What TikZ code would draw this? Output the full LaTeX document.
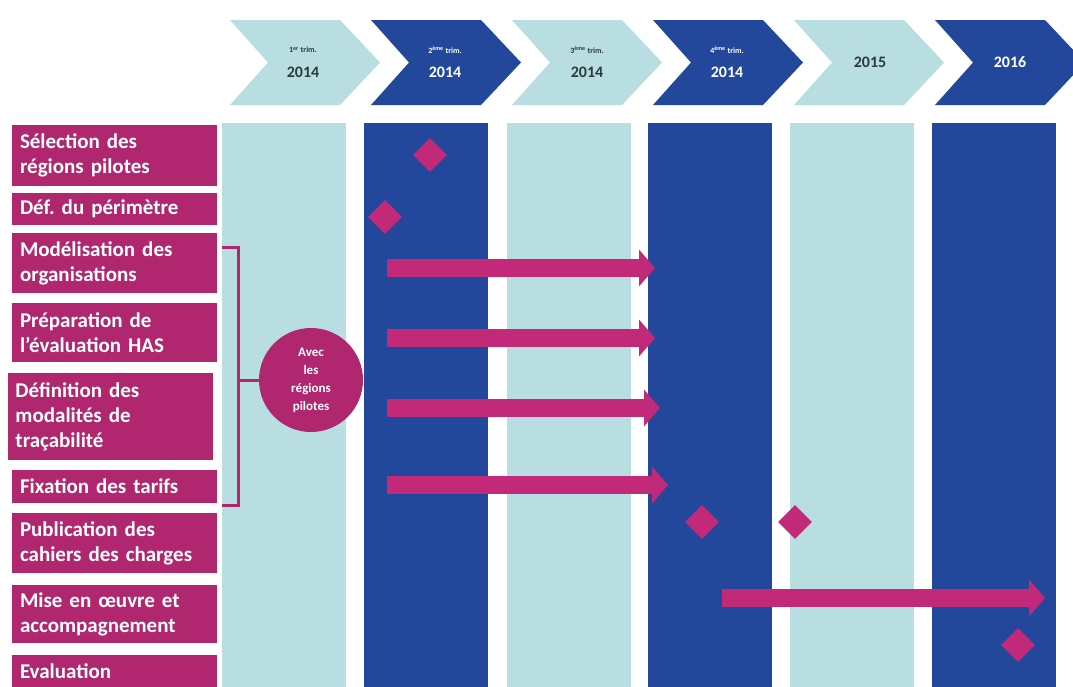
\documentclass[tikz,border=0pt]{standalone}
\usepackage{fontspec}
\setmainfont{Carlito}
\usetikzlibrary{shapes.geometric,arrows.meta}
\definecolor{lightc}{HTML}{B8DEE1}
\definecolor{darkb}{HTML}{23489B}
\definecolor{mag}{HTML}{B0276F}
\definecolor{magb}{HTML}{C22A79}
\definecolor{hdtext}{HTML}{2B3B3B}
\tikzset{
  lbl/.style={fill=mag, text=white, font=\bfseries\fontsize{21}{25}\selectfont,
    align=left, text width=189pt, inner xsep=8pt, inner ysep=0pt, minimum width=205pt},
  colL/.style={fill=lightc, draw=none},
  colD/.style={fill=darkb, draw=none},
  chevL/.style={fill=lightc, draw=none},
  chevD/.style={fill=darkb, draw=none},
  hsmall/.style={font=\bfseries\fontsize{8}{9}\selectfont},
  hbig/.style={font=\bfseries\fontsize{16}{18}\selectfont},
  milestone/.style={diamond, fill=magb, minimum size=34pt, inner sep=0pt},
  bar/.style={magb, line width=18pt, -{Triangle[length=16pt,width=36pt]}},
  brk/.style={mag, line width=3pt},
  circ/.style={circle, fill=mag, minimum size=104pt, inner sep=0pt, text=white,
    align=center, font=\bfseries\fontsize{13}{18}\selectfont}
}
\begin{document}
\frenchspacing
\begin{tikzpicture}[x=1pt,y=-1pt]
\useasboundingbox (0,0) rectangle (1073,686);
\fill[white] (0,0) rectangle (1073,686);
\begin{scope}
\clip (0,0) rectangle (1073,686);
% header chevrons
\foreach \L/\st in {230/chevL,371/chevD,512/chevL,653/chevD,794/chevL,935/chevD}{
  \fill[\st] (\L,20) -- ++(110,0) -- ++(40,42.5) -- ++(-40,42.5) -- ++(-110,0) -- ++(38,-42.5) -- cycle;
}
% columns
\foreach \L/\st in {222/colL,364/colD,507/colL,648/colD,790/colL,932/colD}{
  \fill[\st] (\L,123) rectangle ++(124,570);
}
% labels
\node[lbl, minimum height=61pt] (l1) at (114.5,155.5) {Sélection des\\régions pilotes};
\node[lbl, minimum height=32pt] (l2) at (114.5,209) {Déf. du périmètre};
\node[lbl, minimum height=60pt] (l3) at (114.5,263) {Modélisation des\\organisations};
\node[lbl, minimum height=59pt] (l4) at (114.5,332.5) {Préparation de\\l’évaluation HAS};
\node[lbl, minimum height=87pt] (l5) at (110,416.5) {Définition des\\modalités de\\traçabilité};
\node[lbl, minimum height=33pt] (l6) at (114.5,486.5) {Fixation des tarifs};
\node[lbl, minimum height=60pt] (l7) at (114.5,543) {Publication des\\cahiers des charges};
\node[lbl, minimum height=58pt] (l8) at (114.5,614) {Mise en œuvre et\\accompagnement};
\node[lbl, minimum height=32pt, anchor=north] (l9) at (114.5,655) {Evaluation};
\fill[mag] (12,680) rectangle (217,690);
\end{scope}
% header texts
\node[hsmall, text=hdtext] (t1s) at (303,50) {1\textsuperscript{er} trim.};
\node[hbig, text=hdtext] (t1) at (303,72) {2014};
\node[hsmall, text=white] (t2s) at (445,50) {2\textsuperscript{ème} trim.};
\node[hbig, text=white] (t2) at (445,72) {2014};
\node[hsmall, text=hdtext] (t3s) at (587,50) {3\textsuperscript{ème} trim.};
\node[hbig, text=hdtext] (t3) at (587,72) {2014};
\node[hsmall, text=white] (t4s) at (727,50) {4\textsuperscript{ème} trim.};
\node[hbig, text=white] (t4) at (727,72) {2014};
\node[hbig, text=hdtext] (t5) at (870,62) {2015};
\node[hbig, text=white] (t6) at (1010,62) {2016};
% bracket and circle
\node[circ] (c) at (311,380) {Avec\\les\\régions\\pilotes};
\coordinate (bt) at (222,247);
\coordinate (bb) at (222,505);
\draw[brk] (bt) -- ++(16,0) |- (bb);
\draw[brk] (c.west) -- ++(-21,0);
% milestones
\node[milestone] (m1) at (430,155) {};
\node[milestone] (m2) at (385,217) {};
\node[milestone] (m3) at (702,522) {};
\node[milestone] (m4) at (795,522) {};
\node[milestone] (m5) at (1018,645) {};
% bars
\coordinate (a1s) at (387,268); \coordinate (a1e) at (655,268);
\coordinate (a2s) at (387,338); \coordinate (a2e) at (655,338);
\coordinate (a3s) at (387,408); \coordinate (a3e) at (660,408);
\coordinate (a4s) at (387,485); \coordinate (a4e) at (668,485);
\coordinate (a5s) at (722,598); \coordinate (a5e) at (1045,598);
\draw[bar] (a1s) -- (a1e);
\draw[bar] (a2s) -- (a2e);
\draw[bar] (a3s) -- (a3e);
\draw[bar] (a4s) -- (a4e);
\draw[bar] (a5s) -- (a5e);
\end{tikzpicture}
\end{document}
